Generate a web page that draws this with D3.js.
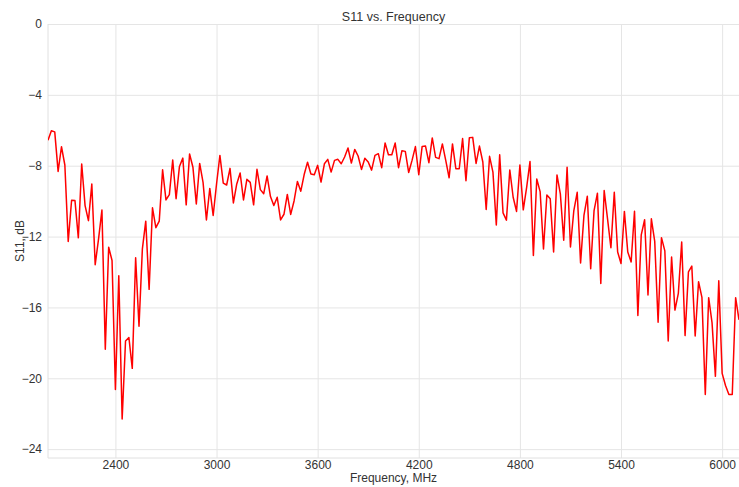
<!DOCTYPE html>
<html>
<head>
<meta charset="utf-8">
<script src="https://cdn.jsdelivr.net/npm/d3@7"></script>
<style>
  body { margin: 0; background: #fff; }
  svg { display: block; font-family: "Liberation Sans", Arial, sans-serif; }
  .grid line { stroke: #e5e5e5; stroke-width: 1; }
  .grid path { display: none; }
  .tick text { fill: #333; font-size: 12px; }
</style>
</head>
<body>
<svg id="chart" width="739" height="487"></svg>
<script>
const startFreq = 2000;
const stepFreq = 20;
const xTicks = [2400, 3000, 3600, 4200, 4800, 5400, 6000];
const yTicks = [0, -4, -8, -12, -16, -20, -24];
// S11 in dB, one value every 20 MHz from 2000 MHz
const s11 = [
  -6.56, -6.03, -6.09, -8.32, -6.93, -7.96, -12.28, -9.95, -9.97, -12.07,
  -7.9, -10.25, -11.1, -9.03, -13.59, -12.13, -10.5, -18.36, -12.6, -13.35,
  -20.63, -14.21, -22.3, -17.9, -17.7, -19.44, -13.2, -17.06, -12.69, -11.13,
  -14.98, -10.38, -11.5, -11.13, -8.23, -9.93, -9.63, -7.68, -9.86, -8.04,
  -7.57, -10.21, -7.34, -8.09, -10.16, -7.87, -8.94, -11.06, -9.28, -10.81,
  -9.03, -7.42, -8.98, -9.09, -8.15, -10.1, -9.03, -8.41, -9.93, -8.77,
  -8.94, -10.21, -8.2, -9.35, -9.58, -8.58, -9.74, -10.25, -9.78, -11.06,
  -10.74, -9.62, -10.75, -9.99, -8.89, -9.44, -8.5, -7.8, -8.47, -8.51,
  -7.98, -8.92, -7.89, -7.64, -8.36, -7.7, -7.64, -7.89, -7.51, -7.0,
  -7.85, -7.08, -7.45, -8.21, -7.58, -7.79, -8.25, -7.42, -7.32, -8.11,
  -6.72, -7.38, -7.38, -6.72, -8.11, -7.15, -7.19, -8.38, -7.7, -6.92,
  -8.51, -6.91, -6.89, -7.83, -6.43, -7.53, -7.6, -6.77, -7.7, -8.68,
  -6.77, -8.17, -8.17, -6.47, -8.85, -6.42, -6.4, -7.87, -6.89, -7.79,
  -10.47, -7.47, -8.36, -11.34, -7.38, -10.66, -11.07, -8.24, -9.78, -10.58,
  -7.96, -10.49, -9.22, -7.76, -13.07, -8.75, -9.46, -12.7, -9.65, -9.87,
  -12.87, -8.52, -9.59, -12.21, -8.09, -12.59, -10.53, -9.5, -13.49, -10.81,
  -9.72, -13.81, -10.53, -9.55, -14.65, -9.4, -11.0, -12.63, -9.5, -12.87,
  -13.52, -10.58, -12.87, -13.43, -10.57, -16.46, -11.9, -11.05, -15.3, -11.0,
  -12.27, -16.84, -12.06, -12.81, -17.89, -13.15, -16.15, -15.21, -12.31, -17.59,
  -13.99, -13.67, -17.61, -14.55, -15.43, -20.92, -15.45, -16.86, -19.89, -14.5,
  -19.72, -20.41, -20.92, -20.92, -15.45, -16.7
];
const freqs = s11.map((d, i) => startFreq + i * stepFreq);

const svg = d3.select("#chart");
const margin = { top: 24, right: 0, bottom: 29, left: 48 };
const width = 739 - margin.left - margin.right;
const height = 487 - margin.top - margin.bottom;

const x = d3.scaleLinear().domain([2000, 6100]).range([0, width]);
const y = d3.scaleLinear().domain([-24.5, 0]).range([height, 0]);

const g = svg.append("g").attr("transform", `translate(${margin.left},${margin.top})`);

// grid
g.append("g")
  .attr("class", "grid")
  .attr("transform", `translate(0,${height})`)
  .call(d3.axisBottom(x).tickValues(xTicks).tickSize(-height).tickFormat(""));
g.append("g")
  .attr("class", "grid")
  .call(d3.axisLeft(y).tickValues(yTicks).tickSize(-width).tickFormat(""));

// frame (left and bottom)
g.append("line").attr("x1", 0).attr("x2", 0).attr("y1", 0).attr("y2", height)
  .attr("stroke", "#e0e0e0");
g.append("line").attr("x1", 0).attr("x2", width).attr("y1", height).attr("y2", height)
  .attr("stroke", "#e0e0e0");

// tick labels
const xAxis = g.append("g")
  .attr("transform", `translate(0,${height})`)
  .call(d3.axisBottom(x).tickValues(xTicks).tickSize(0).tickPadding(2).tickFormat(d3.format("d")));
xAxis.select(".domain").remove();
const yAxis = g.append("g")
  .call(d3.axisLeft(y).tickValues(yTicks).tickSize(0).tickPadding(6).tickFormat(d3.format("d")));
yAxis.select(".domain").remove();

// line
const line = d3.line()
  .x((d, i) => x(freqs[i]))
  .y(d => y(d));
g.append("clipPath").attr("id", "clip")
  .append("rect").attr("width", width + 1).attr("height", height);
g.append("path")
  .datum(s11)
  .attr("clip-path", "url(#clip)")
  .attr("fill", "none")
  .attr("stroke", "#ff0000")
  .attr("stroke-width", 1.5)
  .attr("stroke-linejoin", "round")
  .attr("d", line);

// titles
svg.append("text")
  .attr("x", margin.left + width / 2).attr("y", 21)
  .attr("text-anchor", "middle").attr("font-size", 12.5).attr("fill", "#333")
  .text("S11 vs. Frequency");
svg.append("text")
  .attr("x", margin.left + width / 2).attr("y", 482)
  .attr("text-anchor", "middle").attr("font-size", 12).attr("fill", "#333")
  .text("Frequency, MHz");
svg.append("text")
  .attr("transform", `translate(24,${margin.top + height / 2}) rotate(-90)`)
  .attr("text-anchor", "middle").attr("font-size", 12).attr("fill", "#333")
  .text("S11, dB");
</script>
</body>
</html>
